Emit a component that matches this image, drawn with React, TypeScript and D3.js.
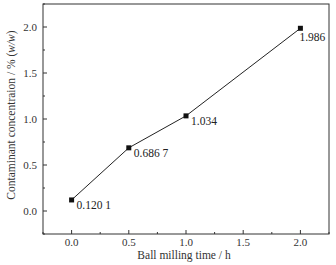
import React from "react";
import * as d3 from "d3";

const times = [0, 0.5, 1, 2];
const concentrations = [0.1201, 0.6867, 1.034, 1.986];
const pointLabels = ["0.120 1", "0.686 7", "1.034", "1.986"];
const xTicks = [0, 0.5, 1, 1.5, 2];
const yTicks = [0, 0.5, 1, 1.5, 2];

export default function App() {
  const W = 336, H = 265;
  const left = 43, right = 329, top = 4, bottom = 234;
  const x = d3.scaleLinear().domain([-0.25, 2.25]).range([left, right]);
  const y = d3.scaleLinear().domain([-0.25, 2.25]).range([bottom, top]);
  const line = d3.line<number>().x((_, i) => x(times[i])).y((d) => y(d));
  const minorX = d3.range(-0.25, 2.26, 0.25).filter((v) => !xTicks.includes(v));
  const minorY = d3.range(-0.25, 2.26, 0.25).filter((v) => !yTicks.includes(v));
  const font = "'Liberation Serif', 'Times New Roman', serif";
  return (
    <svg width={W} height={H} style={{ position: "absolute", left: 0, top: 0 }} fontFamily={font}>
      <rect x={0} y={0} width={W} height={H} fill="#fff" />
      <rect x={left} y={top} width={right - left} height={bottom - top} fill="none" stroke="#333" strokeWidth={1} />
      {xTicks.map((t) => (
        <g key={"x" + t}>
          <line x1={x(t)} x2={x(t)} y1={bottom} y2={bottom - 4} stroke="#333" />
          <text x={x(t)} y={246} fontSize={11} textAnchor="middle" fill="#333">{t.toFixed(1)}</text>
        </g>
      ))}
      {minorX.map((t) => (
        <line key={"mx" + t} x1={x(t)} x2={x(t)} y1={bottom} y2={bottom - 2} stroke="#333" />
      ))}
      {yTicks.map((t) => (
        <g key={"y" + t}>
          <line x1={left} x2={left + 4} y1={y(t)} y2={y(t)} stroke="#333" />
          <text x={37} y={y(t) + 4} fontSize={11} textAnchor="end" fill="#333">{t.toFixed(1)}</text>
        </g>
      ))}
      {minorY.map((t) => (
        <line key={"my" + t} x1={left} x2={left + 2} y1={y(t)} y2={y(t)} stroke="#333" />
      ))}
      <path d={line(concentrations) || ""} fill="none" stroke="#222" strokeWidth={1} />
      {concentrations.map((c, i) => {
        const last = i === concentrations.length - 1;
        return (
          <g key={"p" + i}>
            <rect x={x(times[i]) - 2.5} y={y(c) - 2.5} width={5} height={5} fill="#111" />
            <text x={x(times[i]) + (last ? -1 : 5)} y={y(c) + (last ? 13 : 9.5)} fontSize={11.5} fill="#222">{pointLabels[i]}</text>
          </g>
        );
      })}
      <text x={184} y={259} fontSize={11.5} textAnchor="middle" fill="#333">Ball milling time / h</text>
      <text transform={`translate(15, 115) rotate(-90)`} fontSize={11.5} textAnchor="middle" fill="#333">
        Contaminant concentraion / % (<tspan fontStyle="italic">w/w</tspan>)
      </text>
    </svg>
  );
}
